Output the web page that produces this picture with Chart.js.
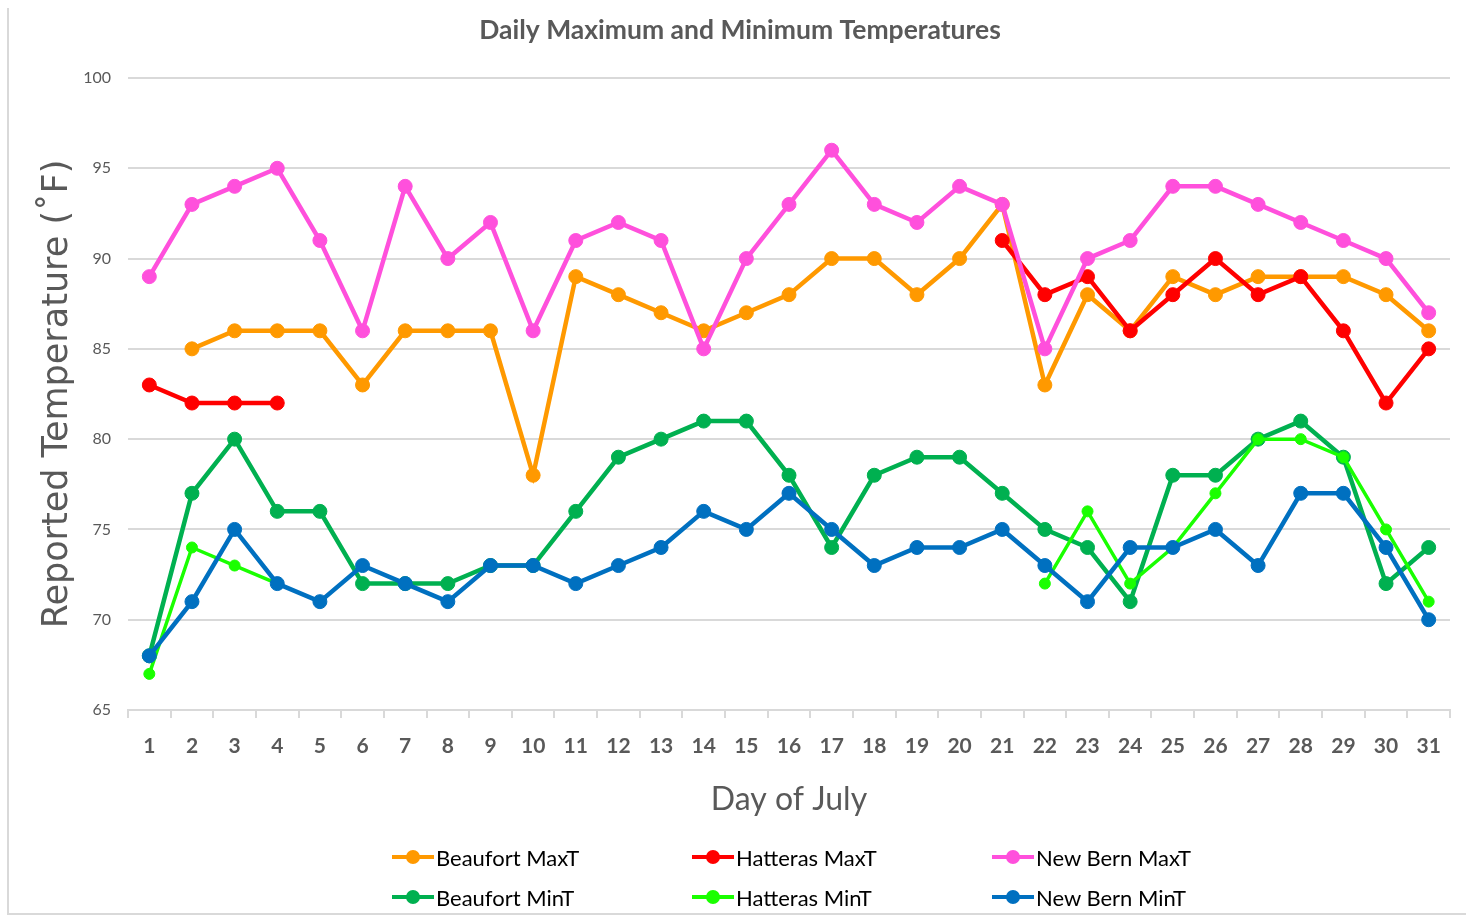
<!DOCTYPE html>
<html>
<head>
<meta charset="utf-8">
<title>Daily Maximum and Minimum Temperatures</title>
<script src="https://cdn.jsdelivr.net/npm/chart.js@4.4.1/dist/chart.umd.min.js"></script>
<style>
  html, body { margin: 0; padding: 0; background: #fff; }
  #wrap { position: relative; width: 1466px; height: 916px; overflow: hidden; }
  #frame {
    position: absolute; left: 7px; top: 8px; width: 1470px; height: 907px;
    border-left: 2px solid #d9d9d9; border-bottom: 2px solid #d9d9d9; box-sizing: border-box;
  }
  #chart { position: absolute; left: 0; top: 0; }
  #legend {
    position: absolute; left: 392px; top: 837px;
    display: grid; grid-template-columns: 300px 300px 300px;
    font: 22px Lato, sans-serif; color: #000;
  }
  .item { display: flex; align-items: center; height: 40px; }
  .mark { position: relative; width: 42px; height: 4px; margin-right: 2px; }
  .mark i { position: absolute; left: 14px; top: -5px; width: 14px; height: 14px; border-radius: 50%; }
</style>
</head>
<body>
<div id="wrap">
  <div id="frame"></div>
  <canvas id="chart" width="1466" height="916"></canvas>
  <div id="legend"></div>
</div>
<script>
// Day of July
const days = ['1','2','3','4','5','6','7','8','9','10','11','12','13','14','15','16',
  '17','18','19','20','21','22','23','24','25','26','27','28','29','30','31'];

const beaufortMax = [null, 85, 86, 86, 86, 83, 86, 86, 86, 78, 89, 88, 87, 86, 87, 88,
  90, 90, 88, 90, 93, 83, 88, 86, 89, 88, 89, 89, 89, 88, 86];
const hatterasMax = [83, 82, 82, 82, null, null, null, null, null, null, null, null, null, null, null, null,
  null, null, null, null, 91, 88, 89, 86, 88, 90, 88, 89, 86, 82, 85];
const newBernMax = [89, 93, 94, 95, 91, 86, 94, 90, 92, 86, 91, 92, 91, 85, 90, 93,
  96, 93, 92, 94, 93, 85, 90, 91, 94, 94, 93, 92, 91, 90, 87];
const beaufortMin = [68, 77, 80, 76, 76, 72, 72, 72, 73, 73, 76, 79, 80, 81, 81, 78,
  74, 78, 79, 79, 77, 75, 74, 71, 78, 78, 80, 81, 79, 72, 74];
const hatterasMin = [67, 74, 73, 72, null, null, null, null, null, null, null, null, null, null, null, null,
  null, null, null, null, null, 72, 76, 72, 74, 77, 80, 80, 79, 75, 71];
const newBernMin = [68, 71, 75, 72, 71, 73, 72, 71, 73, 73, 72, 73, 74, 76, 75, 77,
  75, 73, 74, 74, 75, 73, 71, 74, 74, 75, 73, 77, 77, 74, 70];

const yTicks = [65, 70, 75, 80, 85, 90, 95, 100];

const SERIES = [
  { label: 'Beaufort MaxT', data: beaufortMax, color: '#ff9900' },
  { label: 'Hatteras MaxT', data: hatterasMax, color: '#ff0000' },
  { label: 'New Bern MaxT', data: newBernMax, color: '#ff50dc' },
  { label: 'Beaufort MinT', data: beaufortMin, color: '#00b050' },
  { label: 'Hatteras MinT', data: hatterasMin, color: '#1aff00', thin: true },
  { label: 'New Bern MinT', data: newBernMin, color: '#0070c0' }
];

const GREY = '#595959';
const GRID = '#d9d9d9';

const datasets = SERIES.map((s, i) => ({
  label: s.label,
  data: s.data,
  borderColor: s.color,
  backgroundColor: s.color,
  pointBackgroundColor: s.color,
  pointBorderColor: s.color,
  borderWidth: s.thin ? 3.5 : 4.5,
  pointRadius: s.thin ? 5.5 : 7,
  pointBorderWidth: 1,
  tension: 0,
  spanGaps: false,
  order: SERIES.length - i // later series drawn on top
}));

new Chart(document.getElementById('chart'), {
  type: 'line',
  data: { labels: days, datasets },
  options: {
    responsive: false,
    animation: false,
    events: [],
    layout: { padding: { top: 15, left: 30, right: 16, bottom: 76 } },
    plugins: {
      legend: { display: false },
      tooltip: { enabled: false },
      title: {
        display: true,
        text: 'Daily Maximum and Minimum Temperatures',
        color: GREY,
        font: { family: 'Lato', size: 26.5, weight: 'bold', lineHeight: 1.2 },
        padding: { top: 0, bottom: 31.2 }
      }
    },
    scales: {
      x: {
        offset: true,
        grid: { offset: true, drawOnChartArea: false, drawTicks: true, tickLength: 8, color: GRID, lineWidth: 2 },
        border: { display: true, color: GRID, width: 2 },
        ticks: { color: GREY, padding: 16, maxRotation: 0, autoSkip: false,
          font: { family: 'Lato', size: 21, weight: 'bold', lineHeight: 1.2 } },
        title: {
          display: true, text: 'Day of July', color: GREY,
          font: { family: 'Lato', size: 32, lineHeight: 1.2 },
          padding: { top: 0, bottom: 20.8 }
        },
        afterFit: s => { s.height = 130; }
      },
      y: {
        min: 65, max: 100,
        afterBuildTicks: s => { s.ticks = yTicks.map(v => ({ value: v })); },
        grid: { drawTicks: false, color: GRID, lineWidth: 2 },
        border: { display: false },
        ticks: { color: GREY, padding: 17, font: { family: 'Lato', size: 16 } },
        title: {
          display: true, text: 'Reported Temperature (˚F)', color: GREY,
          font: { family: 'DejaVu Sans', size: 35, lineHeight: 1.2 },
          padding: { top: 7, bottom: 0 }
        },
        afterFit: s => { s.width = 98; }
      }
    }
  }
});

document.getElementById('legend').innerHTML = SERIES.map(s =>
  `<div class="item"><span class="mark" style="background:${s.color}"><i style="background:${s.color}"></i></span>${s.label}</div>`
).join('');
</script>
</body>
</html>
